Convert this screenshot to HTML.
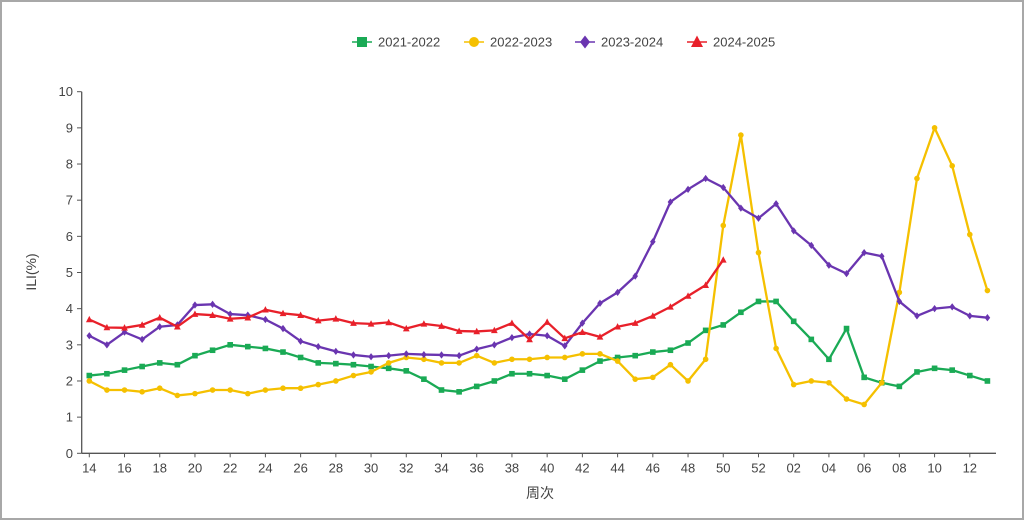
<!DOCTYPE html>
<html><head><meta charset="utf-8"><style>
html,body{margin:0;padding:0;background:#fff;}
#w{width:1020px;height:516px;border:2px solid #a8a8a8;position:relative;overflow:hidden;}
svg text{font-family:"Liberation Sans","Noto Sans CJK SC",sans-serif;fill:#444;}
</style></head><body><div id="w">
<svg id="s" width="1020" height="516" xmlns="http://www.w3.org/2000/svg" style="position:absolute;left:-2px;top:-2px;overflow:visible"></svg>
</div>
<script>
const s=document.getElementById('s');
const X0=89.3,ST=17.61,Y0=453.3,U=36.16;
const X=i=>X0+i*ST,Y=v=>Y0-v*U;
let h='';
h+=`<line x1="81.7" y1="${Y(10)}" x2="81.7" y2="${Y0}" stroke="#555" stroke-width="1.3"/>`;
h+=`<line x1="81.7" y1="${Y0}" x2="996" y2="${Y0}" stroke="#555" stroke-width="1.3"/>`;
for(let v=0;v<=10;v++){h+=`<line x1="77" y1="${Y(v)}" x2="81.7" y2="${Y(v)}" stroke="#555"/><text x="73" y="${Y(v)+4.5}" font-size="13" text-anchor="end">${v}</text>`;}
const wk=[];for(let w=14;w<=52;w++)wk.push(w);for(let w=1;w<=13;w++)wk.push(w);
wk.forEach((w,i)=>{if(w%2==0){h+=`<line x1="${X(i)}" y1="${Y0}" x2="${X(i)}" y2="${Y0+4}" stroke="#555"/><text x="${X(i)}" y="${Y0+19}" font-size="13" text-anchor="middle">${String(w).padStart(2,'0')}</text>`;}});
h+=`<text x="540" y="498" font-size="14" text-anchor="middle">周次</text>`;
h+=`<text transform="translate(36,272) rotate(-90)" font-size="14" text-anchor="middle">ILI(%)</text>`;
const D=[
['#1aaa55','sq',[2.15,2.2,2.3,2.4,2.5,2.45,2.7,2.85,3.0,2.95,2.9,2.8,2.65,2.5,2.48,2.45,2.4,2.35,2.28,2.05,1.75,1.7,1.85,2.0,2.2,2.2,2.15,2.05,2.3,2.55,2.65,2.7,2.8,2.85,3.05,3.4,3.55,3.9,4.2,4.2,3.65,3.15,2.6,3.45,2.1,1.95,1.85,2.25,2.35,2.3,2.15,2.0]],
['#f5c000','ci',[2.0,1.75,1.75,1.7,1.8,1.6,1.65,1.75,1.75,1.65,1.75,1.8,1.8,1.9,2.0,2.15,2.25,2.5,2.65,2.6,2.5,2.5,2.7,2.5,2.6,2.6,2.65,2.65,2.75,2.75,2.55,2.05,2.1,2.45,2.0,2.6,6.3,8.8,5.55,2.9,1.9,2.0,1.95,1.5,1.35,1.95,4.45,7.6,9.0,7.95,6.05,4.5]],
['#6a35b0','di',[3.25,3.0,3.35,3.15,3.5,3.55,4.1,4.12,3.85,3.82,3.7,3.45,3.1,2.95,2.82,2.72,2.67,2.7,2.75,2.73,2.72,2.7,2.88,3.0,3.2,3.3,3.25,2.97,3.6,4.15,4.45,4.9,5.85,6.95,7.3,7.6,7.35,6.78,6.5,6.9,6.15,5.75,5.2,4.97,5.55,5.45,4.2,3.8,4.0,4.05,3.8,3.75]],
['#e8202a','tr',[3.7,3.48,3.47,3.55,3.75,3.5,3.85,3.82,3.72,3.75,3.97,3.87,3.82,3.67,3.72,3.6,3.58,3.62,3.45,3.58,3.52,3.38,3.37,3.4,3.6,3.15,3.63,3.18,3.35,3.22,3.5,3.6,3.8,4.05,4.35,4.65,5.35]]];
function mk(t,x,y,c,r){
 if(t=='sq')return `<rect x="${x-r}" y="${y-r}" width="${2*r}" height="${2*r}" fill="${c}"/>`;
 if(t=='ci')return `<circle cx="${x}" cy="${y}" r="${r}" fill="${c}"/>`;
 if(t=='di')return `<polygon points="${x},${y-r*1.3} ${x+r},${y} ${x},${y+r*1.3} ${x-r},${y}" fill="${c}"/>`;
 return `<polygon points="${x},${y-r*1.3} ${x+r*1.2},${y+r} ${x-r*1.2},${y+r}" fill="${c}"/>`;
}
D.forEach(([c,t,d])=>{
 h+=`<polyline fill="none" stroke="${c}" stroke-width="2.3" stroke-linejoin="round" points="${d.map((v,i)=>X(i)+','+Y(v)).join(' ')}"/>`;
 d.forEach((v,i)=>h+=mk(t,X(i),Y(v),c,2.8));
});
const L=[['2021-2022',0,362],['2022-2023',1,474],['2023-2024',2,585],['2024-2025',3,697]];
L.forEach(([n,k,x])=>{const c=D[k][0];h+=`<line x1="${x-10}" y1="42" x2="${x+10}" y2="42" stroke="${c}" stroke-width="1.5"/>`+mk(D[k][1],x,42,c,5)+`<text x="${x+16}" y="46.5" font-size="13">${n}</text>`;});
s.innerHTML=h;
</script>
</body></html>
